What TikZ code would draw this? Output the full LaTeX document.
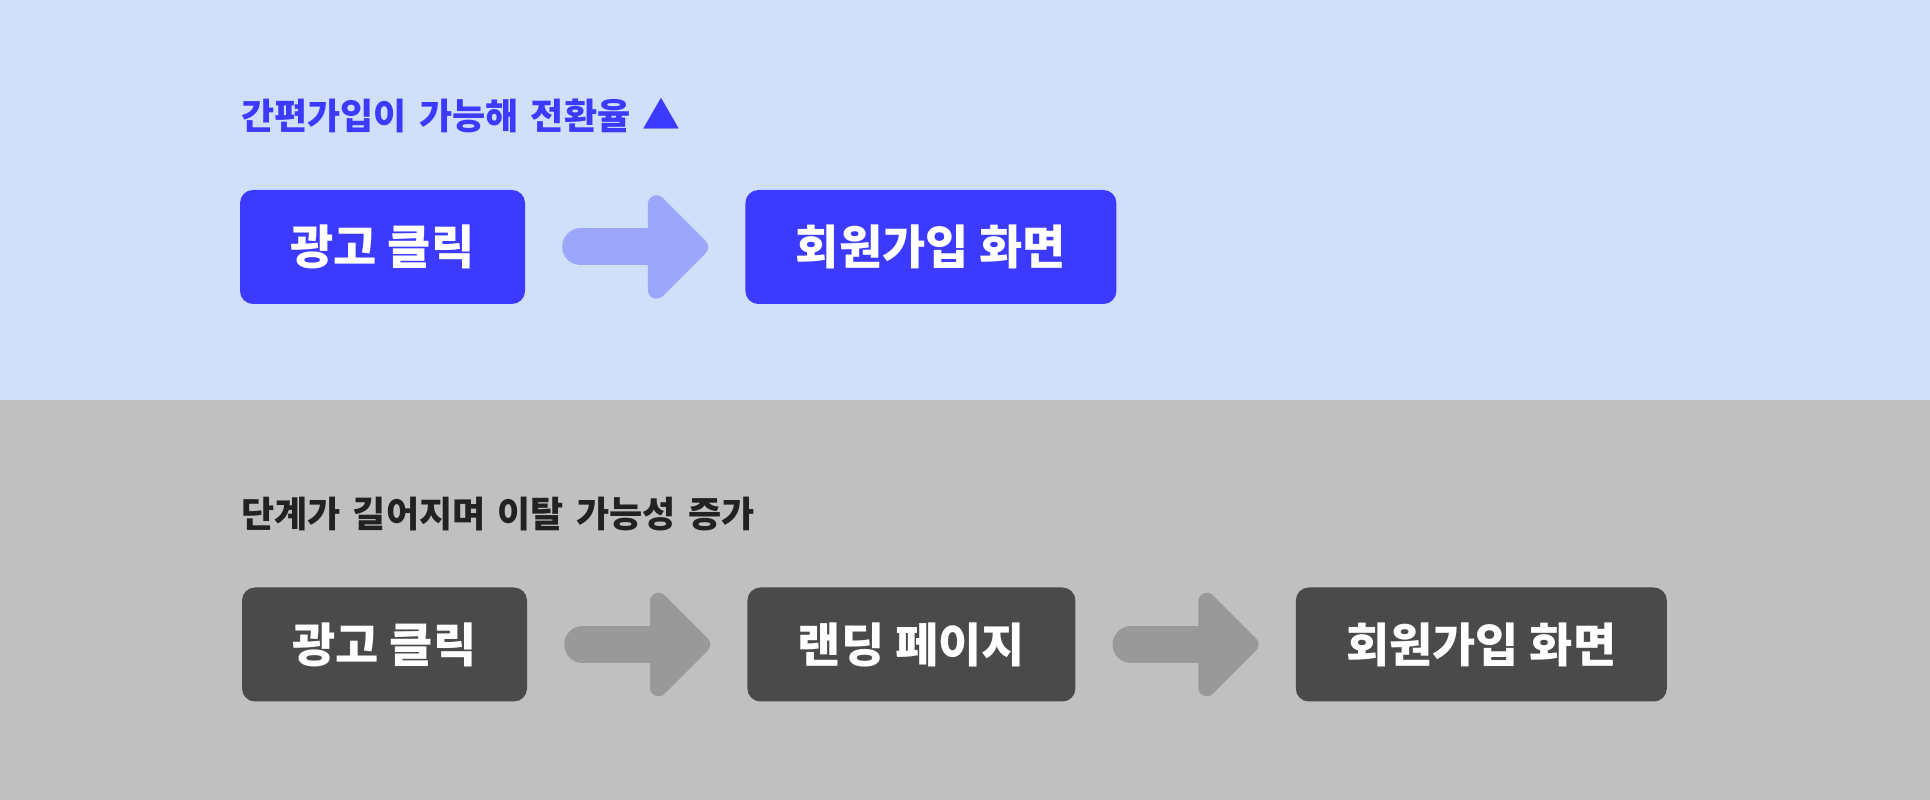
\documentclass[tikz,border=0pt]{standalone}
\usepackage{fontspec}
\setmainfont{Noto Sans CJK KR}
\newfontfamily\titlefont{Noto Sans CJK KR}[WordSpace=1.5]
\usetikzlibrary{calc,positioning}

\definecolor{skybg}{HTML}{D0E0F9}
\definecolor{brandblue}{HTML}{3D3AFF}
\definecolor{paleblue}{HTML}{9CA6FB}
\definecolor{greybg}{HTML}{C0C0C0}
\definecolor{darkbox}{HTML}{4A4A4A}
\definecolor{midgrey}{HTML}{999999}
\definecolor{inkdark}{HTML}{222222}

% fat arrow centred between two boxes
\newcommand{\flowarrow}[3]{%
  \coordinate (m) at ($(#1.east)!0.5!(#2.west)$);
  \draw[#3,line width=37pt,line cap=round] ($(m)+(-54.5,0)$) -- ($(m)+(21.3,0)$);
  \filldraw[#3,line width=17.2pt,line join=round] ($(m)+(21.3,43.1)$) -- ($(m)+(64.4,0)$) -- ($(m)+(21.3,-43.1)$) -- cycle;}

\begin{document}
\begin{tikzpicture}[x=1pt,y=1pt,
  flowbox/.style={rounded corners=13pt,align=center,text=white,inner sep=0pt,
    minimum height=114pt,font=\fontsize{47pt}{55pt}\selectfont\bfseries},
  headline/.style={anchor=west,inner sep=0pt,font=\titlefont\fontsize{36pt}{44pt}\selectfont\bfseries}]
  \useasboundingbox (0,0) rectangle (1930,800);
  \fill[skybg] (0,400) rectangle (1930,800);
  \fill[greybg] (0,0) rectangle (1930,400);

  % top row
  \node[headline,text=brandblue] (gain) at (241,684) {간편가입이 가능해 전환율 {\fontsize{38pt}{38pt}\selectfont ▲}};
  \node[flowbox,fill=brandblue,minimum width=285pt] (adA) at (382.5,553) {광고 클릭};
  \node[flowbox,fill=brandblue,minimum width=371pt,right=220pt of adA] (signA) {회원가입 화면};
  \flowarrow{adA}{signA}{paleblue}

  % bottom row
  \node[headline,text=inkdark] (loss) at (241,285.5) {단계가 길어지며 이탈 가능성 증가};
  \node[flowbox,fill=darkbox,minimum width=285pt] (adB) at (384.5,155.5) {광고 클릭};
  \node[flowbox,fill=darkbox,minimum width=328pt,right=220pt of adB] (land) {랜딩 페이지};
  \node[flowbox,fill=darkbox,minimum width=371pt,right=220pt of land] (signB) {회원가입 화면};
  \flowarrow{adB}{land}{midgrey}
  \flowarrow{land}{signB}{midgrey}
\end{tikzpicture}
\end{document}
